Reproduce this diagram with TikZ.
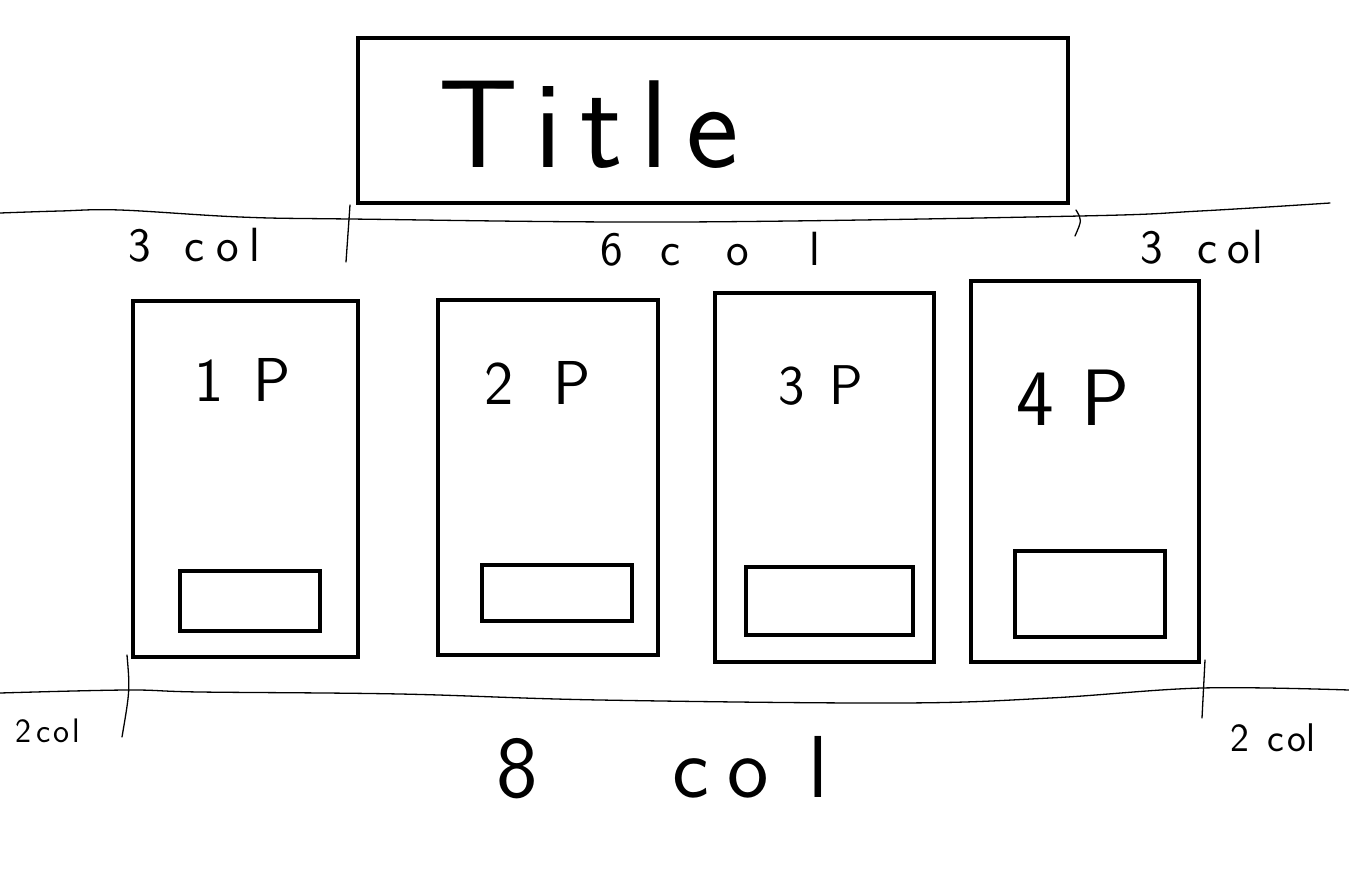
\documentclass[tikz,border=0pt]{standalone}
\usetikzlibrary{positioning}
\begin{document}
\begin{tikzpicture}[x=1pt,y=-1pt,
  frame/.style={draw=black,line width=4pt,minimum width=#1,inner sep=0pt},
  pen/.style={draw=black,line width=1.3pt,line cap=round,line join=round},
  hand/.style={font=\sffamily,inner sep=0pt,text=black,anchor=west},
]
\useasboundingbox[fill=white] (0,0) rectangle (1349,878);
% title
\node[frame=710pt,minimum height=165pt] (title) at (713,120.5) {};
\node[hand,font=\sffamily\fontsize{125}{125}\selectfont] (titletext) at (438,125) {T\hspace{16pt}i\hspace{18pt}t\hspace{18pt}l\hspace{18pt}e};
% top guide line
\draw[pen] plot[smooth,tension=0.6] coordinates {(0,213) (60,211) (120,210) (240,217) (350,219) (680,222) (1080,216) (1200,211) (1330,203)};
\draw[pen] (350,205) -- (346,262);
\draw[pen] (1076,210) .. controls (1082,220) .. (1075,236);
\node[hand,font=\sffamily\fontsize{48}{48}\selectfont] (l1) at (128,245) {3\hspace{34pt}c\hspace{12pt}o\hspace{10pt}l};
\node[hand,font=\sffamily\fontsize{48}{48}\selectfont] (l2) at (600,249) {6\hspace{38pt}c\hspace{46pt}o\hspace{60pt}l};
\node[hand,font=\sffamily\fontsize{48}{48}\selectfont] (l3) at (1140,247) {3\hspace{35pt}c\hspace{10pt}o\hspace{2pt}l};
% cards
\node[frame=225pt,minimum height=356pt] (c1) at (245.5,479) {};
\node[frame=140pt,minimum height=60pt] (b1) at (250,601) {};
\node[hand,font=\sffamily\fontsize{62}{62}\selectfont] (p1) at (194,380) {1\hspace{30pt}P};
\node[frame=220pt,minimum height=355pt] (c2) at (548,477.5) {};
\node[frame=150pt,minimum height=56pt] (b2) at (557,593) {};
\node[hand,font=\sffamily\fontsize{62}{62}\selectfont] (p2) at (484,383) {2\hspace{40pt}P};
\node[frame=219pt,minimum height=369pt] (c3) at (824.5,477.5) {};
\node[frame=167pt,minimum height=68pt] (b3) at (829.5,601) {};
\node[hand,font=\sffamily\fontsize{56}{56}\selectfont] (p3) at (778,386) {3\hspace{25pt}P};
\node[frame=228pt,minimum height=381pt] (c4) at (1085,471.5) {};
\node[frame=150pt,minimum height=86pt] (b4) at (1090,594) {};
\node[hand,font=\sffamily\fontsize{80}{80}\selectfont] (p4) at (1016,398) {4\hspace{28pt}P};
% bottom guide line
\draw[pen] plot[smooth,tension=0.6] coordinates {(0,693) (127,690) (200,692) (400,694) (600,700) (900,703) (1050,698) (1202,688) (1349,690)};
\draw[pen] (127,655) .. controls (130,690) .. (122,737);
\draw[pen] (1205,660) -- (1202,718);
\node[hand,font=\sffamily\fontsize{34}{34}\selectfont] (l4) at (15,731) {2\hspace{5pt}c\hspace{3pt}o\hspace{3pt}l};
\node[hand,font=\sffamily\fontsize{88}{88}\selectfont] (l5) at (496,768) {8\hspace{135pt}c\hspace{18pt}o\hspace{40pt}l};
\node[hand,font=\sffamily\fontsize{40}{40}\selectfont] (l6) at (1230,738) {2\hspace{18pt}c\hspace{4pt}o\hspace{0pt}l};
\end{tikzpicture}
\end{document}
